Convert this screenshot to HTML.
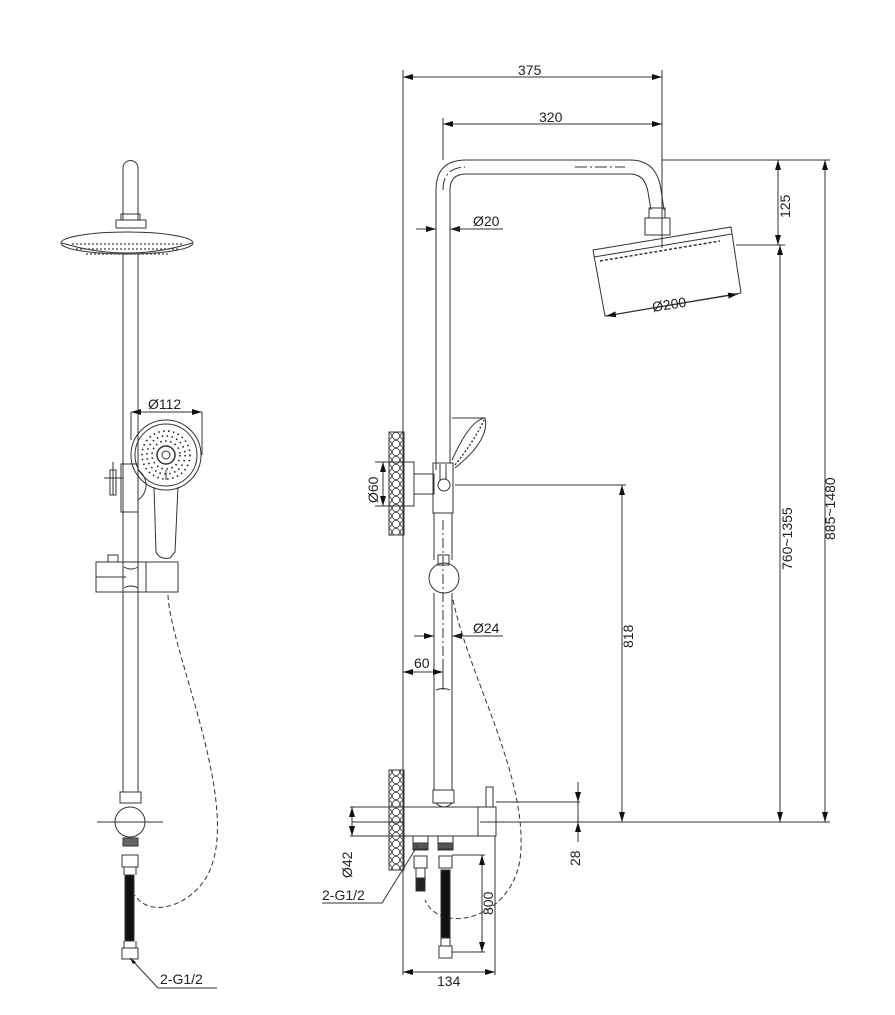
<!DOCTYPE html>
<html><head><meta charset="utf-8"><style>
html,body{margin:0;padding:0;background:#fff}
svg{display:block}
text{font-family:"Liberation Sans",sans-serif;font-size:14px;fill:#222}
</style></head><body>
<svg width="895" height="1015" viewBox="0 0 895 1015" xmlns="http://www.w3.org/2000/svg">
<defs>
<marker id="a" viewBox="0 0 10 6" refX="10" refY="3" markerWidth="10" markerHeight="6" orient="auto-start-reverse" markerUnits="userSpaceOnUse"><path d="M0,0L10,3L0,6z" fill="#111"/></marker>
<pattern id="peb" width="8" height="8" patternUnits="userSpaceOnUse"><circle cx="4" cy="4" r="3.6" fill="none" stroke="#333" stroke-width="0.8"/></pattern>
</defs>
<g fill="none" stroke="#333" stroke-width="1">
<!-- ========== LEFT VIEW ========== -->
<path d="M123,220 V168 a7.5,7.5 0 0 1 15,0 V220"/>
<rect x="121" y="214" width="19" height="6"/>
<rect x="116" y="220" width="30" height="8"/>
<ellipse cx="127" cy="243" rx="66" ry="11"/>
<path d="M62,243 q65,20 130,0" />
<g stroke="#444" stroke-width="1.2" stroke-dasharray="2,2">
<path d="M72,244 H184 M76,249 H178 M86,254 H168"/>
</g>
<path d="M123,254 V792 M138,254 V792"/>
<!-- hand shower -->
<circle cx="166" cy="455" r="35"/>
<circle cx="166" cy="455" r="31"/>
<circle cx="166" cy="455" r="9" stroke-width="1.5"/>
<circle cx="166" cy="455" r="4"/>
<g stroke="#222" stroke-width="1.6" stroke-dasharray="1.5,3.5">
<circle cx="166" cy="455" r="14"/><circle cx="166" cy="455" r="19"/><circle cx="166" cy="455" r="24"/>
</g>
<path d="M154,487 L156,552 Q160,560 170,558 L175,552 L178,487"/>
<path d="M166,480 V470"/>
<path d="M113,462 V495 M104,478 H123 M110,470 h6 v25 h-6z"/>
<path d="M121,464 h17 v48 h-17z"/>
<path d="M138,470 a18,18 0 0 1 0,30"/>
<!-- slider -->
<path d="M96,562 H178 V592 H96 Z M146,562 V592"/>
<rect x="108" y="555" width="10" height="7"/>
<path d="M96,577 H126"/>
<path d="M124,567 q7,4 14,0 M124,588 q7,-4 14,0"/>
<!-- bottom -->
<rect x="120" y="792" width="21" height="11"/>
<circle cx="130" cy="822" r="15"/>
<path d="M97,822 H163"/>
<rect x="123" y="838" width="15" height="8" fill="#666"/>
<rect x="122" y="855" width="16" height="12"/>
<path d="M124,867 V875 M136,867 V875"/>
<rect x="125" y="875" width="9" height="66" fill="#111"/>
<path d="M124,941 V948 M136,941 V948"/>
<rect x="122" y="948" width="16" height="11"/>
<path d="M168,595 C170,650 240,800 210,870 C195,905 150,920 135,895" stroke-dasharray="5,3"/>
<path d="M130,958 L158,988 H217"/>
</g>
<path d="M130,958 l6,4 l-3,2z" fill="#111"/>
<text x="160" y="984">2-G1/2</text>
<!-- dim 112 -->
<g stroke="#333" fill="none" stroke-width="1">
<path d="M131,412 V440 M202,412 V455"/>
<path d="M131,412 H202" marker-start="url(#a)" marker-end="url(#a)"/>
</g>
<text x="148" y="409">Ø112</text>

<!-- ========== RIGHT VIEW ========== -->
<g fill="none" stroke="#333" stroke-width="1">
<path d="M436,470 V190 Q436,160 466,160 H630 Q657,160 661,190 L664,210"/>
<path d="M450,463 V190 Q450,174 466,174 H630 Q645,174 648,192 L651,210"/>
<path d="M443,190 Q443,168 465,167 M575,167 H625" stroke-dasharray="12,3,2,3"/>
<rect x="649" y="208" width="16" height="10"/>
<rect x="645" y="218" width="25" height="17"/>
<path d="M593,250 L731,227 L741,293 L605,316 Z"/>
<path d="M594,257 L732,234"/>
<path d="M600,261 L720,241" stroke-width="1.5" stroke-dasharray="3,2"/>
<path d="M403,70 V975 M443,118 V160 M662,70 V248"/>
<path d="M403,77 H662" marker-start="url(#a)" marker-end="url(#a)"/>
<path d="M443,124 H662" marker-start="url(#a)" marker-end="url(#a)"/>
<path d="M416,229 H436" marker-end="url(#a)"/>
<path d="M470,229 H450" marker-end="url(#a)"/>
<path d="M450,229 H503"/>
<path d="M606,316 L738,294" marker-start="url(#a)" marker-end="url(#a)"/>
<path d="M662,160 H830 M736,245 H785 M480,822 H830 M455,485 H626"/>
<path d="M778,160 V245" marker-start="url(#a)" marker-end="url(#a)"/>
<path d="M780,245 V822" marker-start="url(#a)" marker-end="url(#a)"/>
<path d="M825,160 V822" marker-start="url(#a)" marker-end="url(#a)"/>
<path d="M622,485 V822" marker-start="url(#a)" marker-end="url(#a)"/>
<rect x="389" y="432" width="15" height="103" fill="url(#peb)"/>
<path d="M404,462 H414 V506 H404"/>
<path d="M414,474 H434 V494 H414"/>
<path d="M375,462 H404 M375,506 H404"/>
<path d="M383,462 V506" marker-start="url(#a)" marker-end="url(#a)"/>
<rect x="433" y="463" width="20" height="50"/>
<circle cx="444" cy="485" r="6"/>
<path d="M440,464 V480 M446,464 V480"/>
<path d="M452,460 Q470,420 485,418 Q490,440 455,468" />
<path d="M455,465 Q475,440 484,420" stroke-dasharray="2,2" stroke-width="1.4"/>
<path d="M452,418 Q465,418 485,418"/>
<path d="M434,513 V560 M452,513 V560"/>
<rect x="438" y="555" width="11" height="10"/>
<circle cx="444" cy="578" r="15"/>
<path d="M434,593 V790 M452,593 V790"/>
<path d="M443,520 V690" stroke-dasharray="10,3,2,3"/>
<path d="M414,636 H434" marker-end="url(#a)"/>
<path d="M472,636 H452" marker-end="url(#a)"/>
<path d="M452,636 H503"/>
<path d="M403,672 H443" marker-start="url(#a)" marker-end="url(#a)"/>
<path d="M443,660 V690"/>
<path d="M436,690 q7,-3 14,0"/>
<path d="M453,600 C470,680 530,780 520,860 C510,920 440,935 425,900" stroke-dasharray="5,3"/>
<rect x="433" y="790" width="21" height="13"/>
<path d="M436,803 q8,8 16,0"/>
<rect x="486" y="787" width="7" height="20"/>
<rect x="404" y="807" width="92" height="29"/>
<path d="M478,807 V836"/>
<path d="M352,822 H404" />
<rect x="389" y="770" width="15" height="100" fill="url(#peb)"/>
<path d="M350,807 H404 M350,836 H404"/>
<path d="M352,807 V836" marker-start="url(#a)" marker-end="url(#a)"/>
<path d="M496,802 H580" />
<path d="M578,782 V802" marker-end="url(#a)"/>
<path d="M578,842 V822" marker-end="url(#a)"/>
<path d="M578,802 V822"/>
<rect x="413" y="836" width="15" height="14"/>
<rect x="413" y="843" width="15" height="6" fill="#555"/>
<rect x="438" y="836" width="15" height="14"/>
<rect x="438" y="843" width="15" height="6" fill="#555"/>
<rect x="414" y="856" width="13" height="12"/>
<path d="M416,868 V880 M425,868 V880"/>
<rect x="416" y="878" width="9" height="13" fill="#222"/>
<rect x="439" y="856" width="13" height="12"/>
<rect x="441" y="870" width="9" height="68" fill="#111"/>
<rect x="439" y="946" width="13" height="12"/>
<path d="M441,938 V946 M450,938 V946"/>
<path d="M495,836 V975"/>
<path d="M452,855 H485 M452,952 H485"/>
<path d="M482,855 V952" marker-start="url(#a)" marker-end="url(#a)"/>
<path d="M403,972 H495" marker-start="url(#a)" marker-end="url(#a)"/>
<path d="M418,845 L382,903 H322"/>
</g>
<text x="518" y="75">375</text>
<text x="539" y="122">320</text>
<text x="473" y="226">Ø20</text>
<text x="0" y="0" transform="translate(653,312) rotate(-9)">Ø200</text>
<text x="0" y="0" transform="translate(790,218) rotate(-90)">125</text>
<text x="0" y="0" transform="translate(792,570) rotate(-90)">760~1355</text>
<text x="0" y="0" transform="translate(835,540) rotate(-90)">885~1480</text>
<text x="0" y="0" transform="translate(633,648) rotate(-90)">818</text>
<text x="0" y="0" transform="translate(378,503) rotate(-90)">Ø60</text>
<text x="473" y="633">Ø24</text>
<text x="414" y="668">60</text>
<text x="0" y="0" transform="translate(352,878) rotate(-90)">Ø42</text>
<text x="0" y="0" transform="translate(580,866) rotate(-90)">28</text>
<text x="0" y="0" transform="translate(493,915) rotate(-90)">800</text>
<text x="437" y="986">134</text>
<text x="322" y="900">2-G1/2</text>
</svg>
</body></html>
